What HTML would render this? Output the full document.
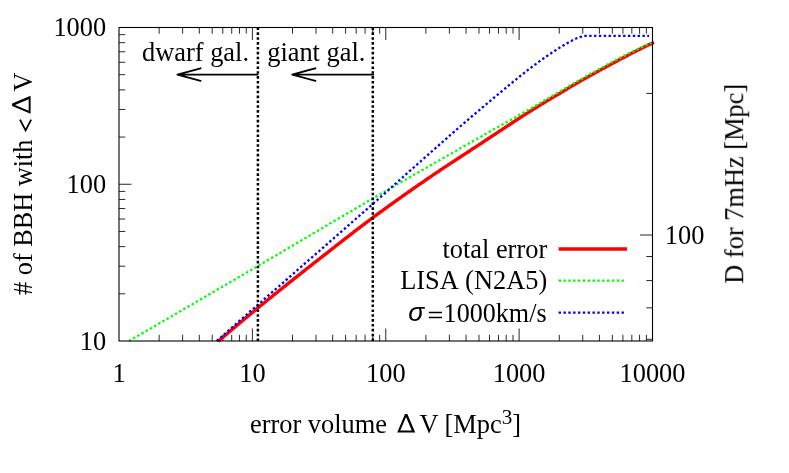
<!DOCTYPE html>
<html><head><meta charset="utf-8"><title>chart</title>
<style>html,body{margin:0;padding:0;background:#fff;}body{width:789px;height:473px;overflow:hidden;}svg{display:block;will-change:transform;}text{font-family:"Liberation Serif",serif;font-size:26.4px;fill:#000;}.sans{font-family:"Liberation Sans",sans-serif;}</style></head><body>
<svg width="789" height="473" viewBox="0 0 789 473">
<rect x="0" y="0" width="789" height="473" fill="#ffffff"/>
<g opacity="0.9999">
<path d="M159.15 341.0V334.8M159.15 27.5V33.7M182.64 341.0V334.8M182.64 27.5V33.7M199.30 341.0V334.8M199.30 27.5V33.7M212.23 341.0V334.8M212.23 27.5V33.7M222.79 341.0V334.8M222.79 27.5V33.7M231.71 341.0V334.8M231.71 27.5V33.7M239.45 341.0V334.8M239.45 27.5V33.7M246.27 341.0V334.8M246.27 27.5V33.7M252.38 341.0V328.5M252.38 27.5V40.0M292.52 341.0V334.8M292.52 27.5V33.7M316.01 341.0V334.8M316.01 27.5V33.7M332.67 341.0V334.8M332.67 27.5V33.7M345.60 341.0V334.8M345.60 27.5V33.7M356.16 341.0V334.8M356.16 27.5V33.7M365.09 341.0V334.8M365.09 27.5V33.7M372.82 341.0V334.8M372.82 27.5V33.7M379.65 341.0V334.8M379.65 27.5V33.7M385.75 341.0V328.5M385.75 27.5V40.0M425.90 341.0V334.8M425.90 27.5V33.7M449.39 341.0V334.8M449.39 27.5V33.7M466.05 341.0V334.8M466.05 27.5V33.7M478.98 341.0V334.8M478.98 27.5V33.7M489.54 341.0V334.8M489.54 27.5V33.7M498.46 341.0V334.8M498.46 27.5V33.7M506.20 341.0V334.8M506.20 27.5V33.7M513.02 341.0V334.8M513.02 27.5V33.7M519.12 341.0V328.5M519.12 27.5V40.0M559.27 341.0V334.8M559.27 27.5V33.7M582.76 341.0V334.8M582.76 27.5V33.7M599.42 341.0V334.8M599.42 27.5V33.7M612.35 341.0V334.8M612.35 27.5V33.7M622.91 341.0V334.8M622.91 27.5V33.7M631.84 341.0V334.8M631.84 27.5V33.7M639.57 341.0V334.8M639.57 27.5V33.7M646.40 341.0V334.8M646.40 27.5V33.7M119.0 293.81H125.2M119.0 266.21H125.2M119.0 246.63H125.2M119.0 231.44H125.2M119.0 219.02H125.2M119.0 208.53H125.2M119.0 199.44H125.2M119.0 191.42H125.2M119.0 184.25H131.5M119.0 137.06H125.2M119.0 109.46H125.2M119.0 89.88H125.2M119.0 74.69H125.2M119.0 62.27H125.2M119.0 51.78H125.2M119.0 42.69H125.2M119.0 34.67H125.2M652.5 235.00H640.0M652.5 339.32H646.3M652.5 307.84H646.3M652.5 280.57H646.3M652.5 256.52H646.3M652.5 93.44H646.3" stroke="#000" stroke-width="0.85" fill="none"/>
<polyline points="218.2,341.3 219.2,340.4 220.2,339.6 221.2,338.7 222.2,337.9 223.2,337.0 224.2,336.2 225.2,335.3 226.2,334.5 227.2,333.6 228.2,332.8 229.2,331.9 230.2,331.1 231.2,330.2 232.2,329.4 233.2,328.5 234.2,327.7 235.2,326.8 236.2,326.0 237.2,325.1 238.2,324.3 239.2,323.5 240.2,322.6 241.2,321.8 242.2,320.9 243.2,320.1 244.2,319.3 245.2,318.4 246.2,317.6 247.2,316.8 248.2,315.9 249.2,315.1 250.2,314.3 251.2,313.4 252.2,312.6 253.2,311.8 254.2,311.0 255.2,310.1 256.2,309.3 257.2,308.5 258.2,307.7 259.2,306.9 260.2,306.0 261.2,305.2 262.2,304.4 263.2,303.6 264.2,302.8 265.2,302.0 266.2,301.1 267.2,300.3 268.2,299.5 269.2,298.7 270.2,297.9 271.2,297.1 272.2,296.3 273.2,295.5 274.2,294.7 275.2,293.9 276.2,293.1 277.2,292.3 278.2,291.5 279.2,290.7 280.2,289.9 281.2,289.1 282.2,288.3 283.2,287.5 284.2,286.7 285.2,285.9 286.2,285.1 287.2,284.3 288.2,283.5 289.2,282.7 290.2,281.9 291.2,281.1 292.2,280.3 293.2,279.5 294.2,278.7 295.2,277.9 296.2,277.1 297.2,276.3 298.2,275.5 299.2,274.8 300.2,274.0 301.2,273.2 302.2,272.4 303.2,271.6 304.2,270.8 305.2,270.0 306.2,269.2 307.2,268.4 308.2,267.7 309.2,266.9 310.2,266.1 311.2,265.3 312.2,264.5 313.2,263.7 314.2,262.9 315.2,262.2 316.2,261.4 317.2,260.6 318.2,259.8 319.2,259.0 320.2,258.2 321.2,257.5 322.2,256.7 323.2,255.9 324.2,255.1 325.2,254.3 326.2,253.5 327.2,252.8 328.2,252.0 329.2,251.2 330.2,250.4 331.2,249.6 332.2,248.8 333.2,248.0 334.2,247.3 335.2,246.5 336.2,245.7 337.2,244.9 338.2,244.1 339.2,243.4 340.2,242.6 341.2,241.8 342.2,241.0 343.2,240.2 344.2,239.5 345.2,238.7 346.2,237.9 347.2,237.1 348.2,236.4 349.2,235.6 350.2,234.8 351.2,234.0 352.2,233.3 353.2,232.5 354.2,231.7 355.2,231.0 356.2,230.2 357.2,229.4 358.2,228.7 359.2,227.9 360.2,227.1 361.2,226.4 362.2,225.6 363.2,224.9 364.2,224.1 365.2,223.3 366.2,222.6 367.2,221.8 368.2,221.1 369.2,220.3 370.2,219.6 371.2,218.9 372.2,218.1 373.2,217.4 374.2,216.6 375.2,215.9 376.2,215.2 377.2,214.4 378.2,213.7 379.2,213.0 380.2,212.2 381.2,211.5 382.2,210.8 383.2,210.0 384.2,209.3 385.2,208.6 386.2,207.9 387.2,207.1 388.2,206.4 389.2,205.7 390.2,205.0 391.2,204.3 392.2,203.5 393.2,202.8 394.2,202.1 395.2,201.4 396.2,200.7 397.2,200.0 398.2,199.3 399.2,198.5 400.2,197.8 401.2,197.1 402.2,196.4 403.2,195.7 404.2,195.0 405.2,194.3 406.2,193.6 407.2,192.9 408.2,192.2 409.2,191.5 410.2,190.8 411.2,190.1 412.2,189.4 413.2,188.7 414.2,188.0 415.2,187.3 416.2,186.6 417.2,185.9 418.2,185.2 419.2,184.5 420.2,183.8 421.2,183.1 422.2,182.5 423.2,181.8 424.2,181.1 425.2,180.4 426.2,179.7 427.2,179.0 428.2,178.3 429.2,177.6 430.2,177.0 431.2,176.3 432.2,175.6 433.2,174.9 434.2,174.2 435.2,173.6 436.2,172.9 437.2,172.2 438.2,171.6 439.2,170.9 440.2,170.2 441.2,169.5 442.2,168.9 443.2,168.2 444.2,167.5 445.2,166.9 446.2,166.2 447.2,165.6 448.2,164.9 449.2,164.2 450.2,163.6 451.2,162.9 452.2,162.3 453.2,161.6 454.2,161.0 455.2,160.3 456.2,159.6 457.2,159.0 458.2,158.3 459.2,157.7 460.2,157.0 461.2,156.4 462.2,155.7 463.2,155.1 464.2,154.4 465.2,153.8 466.2,153.1 467.2,152.5 468.2,151.8 469.2,151.2 470.2,150.5 471.2,149.9 472.2,149.2 473.2,148.5 474.2,147.9 475.2,147.2 476.2,146.6 477.2,145.9 478.2,145.3 479.2,144.6 480.2,144.0 481.2,143.3 482.2,142.7 483.2,142.0 484.2,141.3 485.2,140.7 486.2,140.0 487.2,139.4 488.2,138.7 489.2,138.0 490.2,137.4 491.2,136.7 492.2,136.0 493.2,135.4 494.2,134.7 495.2,134.1 496.2,133.4 497.2,132.7 498.2,132.1 499.2,131.4 500.2,130.7 501.2,130.1 502.2,129.4 503.2,128.8 504.2,128.1 505.2,127.4 506.2,126.8 507.2,126.1 508.2,125.5 509.2,124.8 510.2,124.1 511.2,123.5 512.2,122.8 513.2,122.2 514.2,121.5 515.2,120.9 516.2,120.2 517.2,119.6 518.2,118.9 519.2,118.3 520.2,117.6 521.2,117.0 522.2,116.3 523.2,115.7 524.2,115.0 525.2,114.4 526.2,113.8 527.2,113.1 528.2,112.5 529.2,111.8 530.2,111.2 531.2,110.6 532.2,110.0 533.2,109.3 534.2,108.7 535.2,108.1 536.2,107.5 537.2,106.8 538.2,106.2 539.2,105.6 540.2,105.0 541.2,104.4 542.2,103.8 543.2,103.2 544.2,102.6 545.2,102.0 546.2,101.4 547.2,100.8 548.2,100.2 549.2,99.6 550.2,99.0 551.2,98.4 552.2,97.8 553.2,97.2 554.2,96.6 555.2,96.1 556.2,95.5 557.2,94.9 558.2,94.3 559.2,93.7 560.2,93.1 561.2,92.5 562.2,91.9 563.2,91.3 564.2,90.7 565.2,90.1 566.2,89.5 567.2,88.9 568.2,88.2 569.2,87.6 570.2,87.0 571.2,86.4 572.2,85.8 573.2,85.3 574.2,84.7 575.2,84.1 576.2,83.5 577.2,82.9 578.2,82.4 579.2,81.8 580.2,81.2 581.2,80.6 582.2,80.1 583.2,79.5 584.2,78.9 585.2,78.4 586.2,77.8 587.2,77.3 588.2,76.7 589.2,76.1 590.2,75.6 591.2,75.0 592.2,74.5 593.2,73.9 594.2,73.4 595.2,72.8 596.2,72.3 597.2,71.7 598.2,71.2 599.2,70.6 600.2,70.1 601.2,69.5 602.2,69.0 603.2,68.5 604.2,67.9 605.2,67.4 606.2,66.8 607.2,66.3 608.2,65.7 609.2,65.2 610.2,64.7 611.2,64.1 612.2,63.6 613.2,63.0 614.2,62.5 615.2,62.0 616.2,61.4 617.2,60.9 618.2,60.4 619.2,59.8 620.2,59.3 621.2,58.8 622.2,58.3 623.2,57.7 624.2,57.2 625.2,56.7 626.2,56.2 627.2,55.7 628.2,55.1 629.2,54.6 630.2,54.1 631.2,53.6 632.2,53.1 633.2,52.6 634.2,52.1 635.2,51.6 636.2,51.1 637.2,50.6 638.2,50.1 639.2,49.6 640.2,49.1 641.2,48.6 642.2,48.1 643.2,47.6 644.2,47.1 645.2,46.6 646.2,46.1 647.2,45.6 648.2,45.1 649.2,44.6 650.2,44.2 651.2,43.7 652.2,43.2 653.2,42.7 654.0,42.3" fill="none" stroke="#ff0000" stroke-width="3.4" stroke-linejoin="round"/>
<polyline points="128.9,341.0 129.9,340.4 130.9,339.8 131.9,339.3 132.9,338.7 133.9,338.1 134.9,337.5 135.9,336.9 136.9,336.4 137.9,335.8 138.9,335.2 139.9,334.6 140.9,334.1 141.9,333.5 142.9,332.9 143.9,332.3 144.9,331.7 145.9,331.2 146.9,330.6 147.9,330.0 148.9,329.4 149.9,328.8 150.9,328.3 151.9,327.7 152.9,327.1 153.9,326.5 154.9,325.9 155.9,325.4 156.9,324.8 157.9,324.2 158.9,323.6 159.9,323.0 160.9,322.5 161.9,321.9 162.9,321.3 163.9,320.7 164.9,320.1 165.9,319.6 166.9,319.0 167.9,318.4 168.9,317.8 169.9,317.2 170.9,316.7 171.9,316.1 172.9,315.5 173.9,314.9 174.9,314.3 175.9,313.8 176.9,313.2 177.9,312.6 178.9,312.0 179.9,311.4 180.9,310.9 181.9,310.3 182.9,309.7 183.9,309.1 184.9,308.5 185.9,307.9 186.9,307.4 187.9,306.8 188.9,306.2 189.9,305.6 190.9,305.0 191.9,304.5 192.9,303.9 193.9,303.3 194.9,302.7 195.9,302.1 196.9,301.6 197.9,301.0 198.9,300.4 199.9,299.8 200.9,299.2 201.9,298.6 202.9,298.1 203.9,297.5 204.9,296.9 205.9,296.3 206.9,295.7 207.9,295.2 208.9,294.6 209.9,294.0 210.9,293.4 211.9,292.8 212.9,292.2 213.9,291.7 214.9,291.1 215.9,290.5 216.9,289.9 217.9,289.3 218.9,288.7 219.9,288.2 220.9,287.6 221.9,287.0 222.9,286.4 223.9,285.8 224.9,285.2 225.9,284.7 226.9,284.1 227.9,283.5 228.9,282.9 229.9,282.3 230.9,281.7 231.9,281.2 232.9,280.6 233.9,280.0 234.9,279.4 235.9,278.8 236.9,278.2 237.9,277.7 238.9,277.1 239.9,276.5 240.9,275.9 241.9,275.3 242.9,274.7 243.9,274.2 244.9,273.6 245.9,273.0 246.9,272.4 247.9,271.8 248.9,271.2 249.9,270.7 250.9,270.1 251.9,269.5 252.9,268.9 253.9,268.3 254.9,267.7 255.9,267.2 256.9,266.6 257.9,266.0 258.9,265.4 259.9,264.8 260.9,264.2 261.9,263.6 262.9,263.1 263.9,262.5 264.9,261.9 265.9,261.3 266.9,260.7 267.9,260.1 268.9,259.5 269.9,259.0 270.9,258.4 271.9,257.8 272.9,257.2 273.9,256.6 274.9,256.0 275.9,255.4 276.9,254.8 277.9,254.3 278.9,253.7 279.9,253.1 280.9,252.5 281.9,251.9 282.9,251.3 283.9,250.7 284.9,250.1 285.9,249.5 286.9,249.0 287.9,248.4 288.9,247.8 289.9,247.2 290.9,246.6 291.9,246.0 292.9,245.4 293.9,244.8 294.9,244.2 295.9,243.6 296.9,243.1 297.9,242.5 298.9,241.9 299.9,241.3 300.9,240.7 301.9,240.1 302.9,239.5 303.9,238.9 304.9,238.3 305.9,237.7 306.9,237.2 307.9,236.6 308.9,236.0 309.9,235.4 310.9,234.8 311.9,234.2 312.9,233.6 313.9,233.0 314.9,232.4 315.9,231.8 316.9,231.3 317.9,230.7 318.9,230.1 319.9,229.5 320.9,228.9 321.9,228.3 322.9,227.7 323.9,227.1 324.9,226.5 325.9,225.9 326.9,225.4 327.9,224.8 328.9,224.2 329.9,223.6 330.9,223.0 331.9,222.4 332.9,221.8 333.9,221.2 334.9,220.6 335.9,220.1 336.9,219.5 337.9,218.9 338.9,218.3 339.9,217.7 340.9,217.1 341.9,216.5 342.9,215.9 343.9,215.4 344.9,214.8 345.9,214.2 346.9,213.6 347.9,213.0 348.9,212.4 349.9,211.8 350.9,211.3 351.9,210.7 352.9,210.1 353.9,209.5 354.9,208.9 355.9,208.3 356.9,207.7 357.9,207.2 358.9,206.6 359.9,206.0 360.9,205.4 361.9,204.8 362.9,204.2 363.9,203.7 364.9,203.1 365.9,202.5 366.9,201.9 367.9,201.3 368.9,200.8 369.9,200.2 370.9,199.6 371.9,199.0 372.9,198.4 373.9,197.9 374.9,197.3 375.9,196.7 376.9,196.1 377.9,195.5 378.9,195.0 379.9,194.4 380.9,193.8 381.9,193.2 382.9,192.6 383.9,192.1 384.9,191.5 385.9,190.9 386.9,190.3 387.9,189.8 388.9,189.2 389.9,188.6 390.9,188.0 391.9,187.5 392.9,186.9 393.9,186.3 394.9,185.7 395.9,185.2 396.9,184.6 397.9,184.0 398.9,183.4 399.9,182.9 400.9,182.3 401.9,181.7 402.9,181.1 403.9,180.6 404.9,180.0 405.9,179.4 406.9,178.8 407.9,178.3 408.9,177.7 409.9,177.1 410.9,176.6 411.9,176.0 412.9,175.4 413.9,174.8 414.9,174.3 415.9,173.7 416.9,173.1 417.9,172.5 418.9,172.0 419.9,171.4 420.9,170.8 421.9,170.3 422.9,169.7 423.9,169.1 424.9,168.5 425.9,168.0 426.9,167.4 427.9,166.8 428.9,166.3 429.9,165.7 430.9,165.1 431.9,164.6 432.9,164.0 433.9,163.4 434.9,162.8 435.9,162.3 436.9,161.7 437.9,161.1 438.9,160.6 439.9,160.0 440.9,159.4 441.9,158.9 442.9,158.3 443.9,157.7 444.9,157.1 445.9,156.6 446.9,156.0 447.9,155.4 448.9,154.9 449.9,154.3 450.9,153.7 451.9,153.2 452.9,152.6 453.9,152.0 454.9,151.5 455.9,150.9 456.9,150.3 457.9,149.7 458.9,149.2 459.9,148.6 460.9,148.0 461.9,147.5 462.9,146.9 463.9,146.3 464.9,145.8 465.9,145.2 466.9,144.6 467.9,144.1 468.9,143.5 469.9,142.9 470.9,142.3 471.9,141.8 472.9,141.2 473.9,140.6 474.9,140.1 475.9,139.5 476.9,138.9 477.9,138.4 478.9,137.8 479.9,137.2 480.9,136.7 481.9,136.1 482.9,135.5 483.9,135.0 484.9,134.4 485.9,133.8 486.9,133.3 487.9,132.7 488.9,132.1 489.9,131.6 490.9,131.0 491.9,130.4 492.9,129.9 493.9,129.3 494.9,128.7 495.9,128.2 496.9,127.6 497.9,127.0 498.9,126.5 499.9,125.9 500.9,125.4 501.9,124.8 502.9,124.2 503.9,123.7 504.9,123.1 505.9,122.5 506.9,122.0 507.9,121.4 508.9,120.8 509.9,120.3 510.9,119.7 511.9,119.2 512.9,118.6 513.9,118.0 514.9,117.5 515.9,116.9 516.9,116.3 517.9,115.8 518.9,115.2 519.9,114.6 520.9,114.1 521.9,113.5 522.9,112.9 523.9,112.4 524.9,111.8 525.9,111.2 526.9,110.6 527.9,110.1 528.9,109.5 529.9,108.9 530.9,108.4 531.9,107.8 532.9,107.2 533.9,106.6 534.9,106.1 535.9,105.5 536.9,104.9 537.9,104.3 538.9,103.7 539.9,103.2 540.9,102.6 541.9,102.0 542.9,101.4 543.9,100.8 544.9,100.2 545.9,99.7 546.9,99.1 547.9,98.5 548.9,97.9 549.9,97.3 550.9,96.7 551.9,96.1 552.9,95.6 553.9,95.0 554.9,94.4 555.9,93.8 556.9,93.2 557.9,92.6 558.9,92.0 559.9,91.5 560.9,90.9 561.9,90.3 562.9,89.7 563.9,89.1 564.9,88.5 565.9,87.9 566.9,87.3 567.9,86.7 568.9,86.2 569.9,85.6 570.9,85.0 571.9,84.4 572.9,83.8 573.9,83.2 574.9,82.7 575.9,82.1 576.9,81.5 577.9,80.9 578.9,80.4 579.9,79.8 580.9,79.2 581.9,78.7 582.9,78.1 583.9,77.5 584.9,77.0 585.9,76.4 586.9,75.8 587.9,75.3 588.9,74.7 589.9,74.2 590.9,73.6 591.9,73.1 592.9,72.5 593.9,72.0 594.9,71.4 595.9,70.8 596.9,70.3 597.9,69.7 598.9,69.2 599.9,68.7 600.9,68.1 601.9,67.6 602.9,67.0 603.9,66.5 604.9,65.9 605.9,65.4 606.9,64.8 607.9,64.3 608.9,63.8 609.9,63.2 610.9,62.7 611.9,62.1 612.9,61.6 613.9,61.1 614.9,60.5 615.9,60.0 616.9,59.5 617.9,59.0 618.9,58.4 619.9,57.9 620.9,57.4 621.9,56.9 622.9,56.4 623.9,55.9 624.9,55.4 625.9,54.8 626.9,54.3 627.9,53.8 628.9,53.3 629.9,52.9 630.9,52.4 631.9,51.9 632.9,51.4 633.9,50.9 634.9,50.4 635.9,49.9 636.9,49.5 637.9,49.0 638.9,48.5 639.9,48.0 640.9,47.6 641.9,47.1 642.9,46.6 643.9,46.2 644.9,45.7 645.9,45.3 646.9,44.8 647.9,44.3 648.9,43.9 649.9,43.4 650.9,43.0 651.5,42.7" fill="none" stroke="#00ff00" stroke-width="2.3" stroke-dasharray="2.4 2.44"/>
<polyline points="216.7,341.0 217.7,340.1 218.7,339.2 219.7,338.4 220.7,337.5 221.7,336.6 222.7,335.7 223.7,334.8 224.7,333.9 225.7,333.1 226.7,332.2 227.7,331.3 228.7,330.4 229.7,329.5 230.7,328.7 231.7,327.8 232.7,326.9 233.7,326.0 234.7,325.1 235.7,324.3 236.7,323.4 237.7,322.5 238.7,321.6 239.7,320.7 240.7,319.8 241.7,319.0 242.7,318.1 243.7,317.2 244.7,316.3 245.7,315.4 246.7,314.6 247.7,313.7 248.7,312.8 249.7,311.9 250.7,311.0 251.7,310.2 252.7,309.3 253.7,308.4 254.7,307.5 255.7,306.6 256.7,305.8 257.7,304.9 258.7,304.0 259.7,303.1 260.7,302.3 261.7,301.4 262.7,300.5 263.7,299.6 264.7,298.7 265.7,297.9 266.7,297.0 267.7,296.1 268.7,295.2 269.7,294.3 270.7,293.5 271.7,292.6 272.7,291.7 273.7,290.8 274.7,290.0 275.7,289.1 276.7,288.2 277.7,287.3 278.7,286.5 279.7,285.6 280.7,284.7 281.7,283.8 282.7,283.0 283.7,282.1 284.7,281.2 285.7,280.3 286.7,279.5 287.7,278.6 288.7,277.7 289.7,276.8 290.7,276.0 291.7,275.1 292.7,274.2 293.7,273.3 294.7,272.5 295.7,271.6 296.7,270.7 297.7,269.8 298.7,269.0 299.7,268.1 300.7,267.2 301.7,266.3 302.7,265.5 303.7,264.6 304.7,263.7 305.7,262.8 306.7,262.0 307.7,261.1 308.7,260.2 309.7,259.3 310.7,258.5 311.7,257.6 312.7,256.7 313.7,255.8 314.7,255.0 315.7,254.1 316.7,253.2 317.7,252.3 318.7,251.5 319.7,250.6 320.7,249.7 321.7,248.8 322.7,248.0 323.7,247.1 324.7,246.2 325.7,245.3 326.7,244.5 327.7,243.6 328.7,242.7 329.7,241.8 330.7,240.9 331.7,240.1 332.7,239.2 333.7,238.3 334.7,237.4 335.7,236.6 336.7,235.7 337.7,234.8 338.7,233.9 339.7,233.1 340.7,232.2 341.7,231.3 342.7,230.4 343.7,229.5 344.7,228.7 345.7,227.8 346.7,226.9 347.7,226.0 348.7,225.2 349.7,224.3 350.7,223.4 351.7,222.5 352.7,221.6 353.7,220.8 354.7,219.9 355.7,219.0 356.7,218.1 357.7,217.2 358.7,216.4 359.7,215.5 360.7,214.6 361.7,213.7 362.7,212.8 363.7,211.9 364.7,211.1 365.7,210.2 366.7,209.3 367.7,208.4 368.7,207.5 369.7,206.7 370.7,205.8 371.7,204.9 372.7,204.0 373.7,203.1 374.7,202.2 375.7,201.3 376.7,200.5 377.7,199.6 378.7,198.7 379.7,197.8 380.7,196.9 381.7,196.0 382.7,195.1 383.7,194.2 384.7,193.3 385.7,192.5 386.7,191.6 387.7,190.7 388.7,189.8 389.7,188.9 390.7,188.0 391.7,187.1 392.7,186.2 393.7,185.3 394.7,184.4 395.7,183.5 396.7,182.6 397.7,181.7 398.7,180.9 399.7,180.0 400.7,179.1 401.7,178.2 402.7,177.3 403.7,176.4 404.7,175.5 405.7,174.6 406.7,173.7 407.7,172.8 408.7,171.9 409.7,171.0 410.7,170.2 411.7,169.3 412.7,168.4 413.7,167.5 414.7,166.6 415.7,165.7 416.7,164.8 417.7,163.9 418.7,163.1 419.7,162.2 420.7,161.3 421.7,160.4 422.7,159.5 423.7,158.6 424.7,157.7 425.7,156.9 426.7,156.0 427.7,155.1 428.7,154.2 429.7,153.3 430.7,152.4 431.7,151.5 432.7,150.6 433.7,149.8 434.7,148.9 435.7,148.0 436.7,147.1 437.7,146.2 438.7,145.3 439.7,144.4 440.7,143.6 441.7,142.7 442.7,141.8 443.7,140.9 444.7,140.0 445.7,139.1 446.7,138.3 447.7,137.4 448.7,136.5 449.7,135.6 450.7,134.7 451.7,133.9 452.7,133.0 453.7,132.1 454.7,131.2 455.7,130.4 456.7,129.5 457.7,128.6 458.7,127.8 459.7,126.9 460.7,126.0 461.7,125.1 462.7,124.3 463.7,123.4 464.7,122.6 465.7,121.7 466.7,120.8 467.7,120.0 468.7,119.1 469.7,118.3 470.7,117.4 471.7,116.5 472.7,115.7 473.7,114.8 474.7,114.0 475.7,113.1 476.7,112.3 477.7,111.4 478.7,110.6 479.7,109.8 480.7,108.9 481.7,108.1 482.7,107.2 483.7,106.4 484.7,105.5 485.7,104.7 486.7,103.9 487.7,103.0 488.7,102.2 489.7,101.4 490.7,100.5 491.7,99.7 492.7,98.8 493.7,98.0 494.7,97.2 495.7,96.3 496.7,95.5 497.7,94.7 498.7,93.8 499.7,93.0 500.7,92.2 501.7,91.4 502.7,90.5 503.7,89.7 504.7,88.9 505.7,88.0 506.7,87.2 507.7,86.4 508.7,85.5 509.7,84.7 510.7,83.9 511.7,83.1 512.7,82.2 513.7,81.4 514.7,80.6 515.7,79.8 516.7,78.9 517.7,78.1 518.7,77.3 519.7,76.5 520.7,75.7 521.7,74.9 522.7,74.1 523.7,73.3 524.7,72.5 525.7,71.8 526.7,71.0 527.7,70.2 528.7,69.4 529.7,68.6 530.7,67.9 531.7,67.1 532.7,66.3 533.7,65.6 534.7,64.8 535.7,64.1 536.7,63.4 537.7,62.6 538.7,61.9 539.7,61.2 540.7,60.4 541.7,59.7 542.7,59.0 543.7,58.3 544.7,57.6 545.7,56.9 546.7,56.2 547.7,55.5 548.7,54.8 549.7,54.1 550.7,53.5 551.7,52.8 552.7,52.1 553.7,51.5 554.7,50.8 555.7,50.2 556.7,49.5 557.7,48.9 558.7,48.3 559.7,47.6 560.7,47.0 561.7,46.4 562.7,45.8 563.7,45.2 564.7,44.6 565.7,44.0 566.7,43.4 567.7,42.9 568.7,42.3 569.7,41.8 570.7,41.2 571.7,40.7 572.7,40.1 573.7,39.7 574.7,39.2 575.7,38.7 576.7,38.3 577.7,37.9 578.7,37.5 579.7,37.1 580.7,36.8 581.7,36.6 582.7,36.4 583.7,36.2 584.7,36.0 585.7,35.9 586.7,35.8 587.0,35.8 649.0,35.8" fill="none" stroke="#0000ff" stroke-width="2.3" stroke-dasharray="2.4 2.44"/>
<rect x="119.0" y="27.5" width="533.5" height="313.5" fill="none" stroke="#000" stroke-width="1.1"/>
<line x1="257.90" y1="27.5" x2="257.90" y2="341.0" stroke="#000" stroke-width="2.5" stroke-dasharray="2.6 2.26"/>
<line x1="372.82" y1="27.5" x2="372.82" y2="341.0" stroke="#000" stroke-width="2.5" stroke-dasharray="2.6 2.26"/>
<line x1="558.6" y1="249" x2="627.1" y2="249" stroke="#ff0000" stroke-width="3.4"/>
<line x1="558.6" y1="280.7" x2="626" y2="280.7" stroke="#00ff00" stroke-width="2.3" stroke-dasharray="2.4 2.44"/>
<line x1="558.6" y1="312.7" x2="626" y2="312.7" stroke="#0000ff" stroke-width="2.3" stroke-dasharray="2.4 2.44"/>
<text x="547.2" y="257.5" text-anchor="end">total error</text>
<text x="400.2" y="289.3">LISA</text>
<text x="547.2" y="289.3" text-anchor="end">(N2A5)</text>
<text x="443.6" y="321.6" textLength="103.0" lengthAdjust="spacingAndGlyphs">1000km/s</text>
<path d="M428.8 312.5H442M428.8 317.5H442" stroke="#000" stroke-width="1.6" fill="none"/>
<text x="408.3" y="321.0" class="sans" font-style="italic">σ</text>
<path d="M257.6 74.6H177.4M200.6 68.3L177.4 74.6L200.6 80.9" fill="none" stroke="#000" stroke-width="1.85" stroke-linecap="round" stroke-linejoin="round"/>
<path d="M373.3 74.6H292.2M315.4 68.3L292.2 74.6L315.4 80.9" fill="none" stroke="#000" stroke-width="1.85" stroke-linecap="round" stroke-linejoin="round"/>
<text x="142.0" y="60.7">dwarf gal.</text>
<text x="267.2" y="60.7">giant gal.</text>
<text x="106.2" y="36.3" text-anchor="end">1000</text>
<text x="106.2" y="193.1" text-anchor="end">100</text>
<text x="106.2" y="349.8" text-anchor="end">10</text>
<text x="119.0" y="381.8" text-anchor="middle">1</text>
<text x="252.4" y="381.8" text-anchor="middle">10</text>
<text x="385.8" y="381.8" text-anchor="middle">100</text>
<text x="519.1" y="381.8" text-anchor="middle">1000</text>
<text x="652.5" y="381.8" text-anchor="middle">10000</text>
<text x="664.8" y="243.9">100</text>
<text x="250.0" y="433.1">error volume</text>
<path transform="translate(397.2,432.5)" d="M0 0L7.8 -18.5L10.2 -18.5L18 0ZM3.08 -1.9L8.84 -15.56L14.6 -1.9Z" fill="#000" fill-rule="evenodd"/>
<text x="419.4" y="433.1">V [Mpc<tspan dy="-9.4" font-size="21.1">3</tspan><tspan dy="9.4">]</tspan></text>
<g transform="translate(31.5,294.9) rotate(-90)">
<text x="0" y="0" textLength="155.4" lengthAdjust="spacingAndGlyphs"># of BBH with</text>
<path transform="translate(181.1,-0.9)" d="M0 0L7.8 -18.5L10.2 -18.5L18 0ZM3.08 -1.9L8.84 -15.56L14.6 -1.9Z" fill="#000" fill-rule="evenodd"/>
<text x="203.5" y="0">V</text>
</g>
<path d="M20.0 119.7L25.6 130.4L31.2 119.7" fill="none" stroke="#000" stroke-width="1.8" stroke-miterlimit="10"/>
<text transform="translate(743.2,283.8) rotate(-90)">D for 7mHz [Mpc]</text>
</g></svg></body></html>
